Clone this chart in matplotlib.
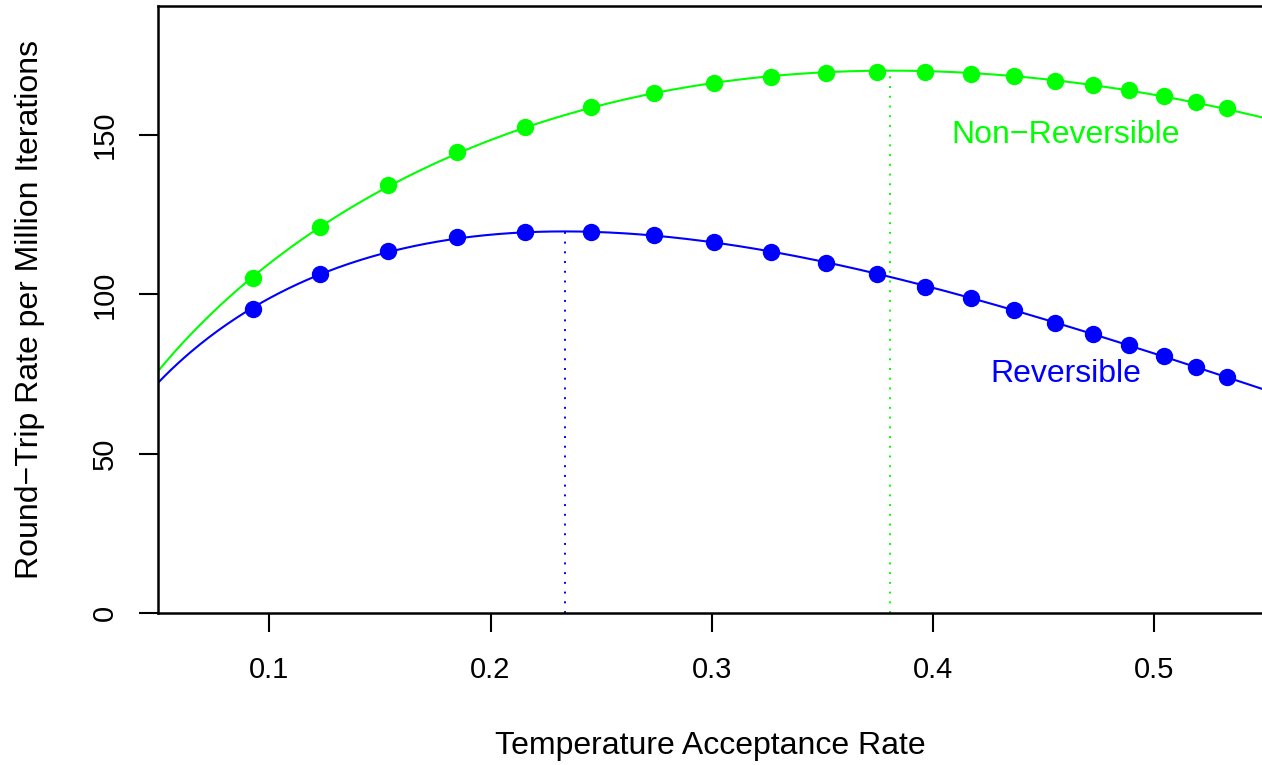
import numpy as np
import matplotlib
matplotlib.use("Agg")
import matplotlib.pyplot as plt

# acceptance rates (same for both samplers)
acc = [0.0926, 0.1229, 0.1536, 0.1848, 0.2156, 0.2454, 0.2739, 0.3010, 0.3267, 0.3516,
       0.3746, 0.3963, 0.4171, 0.4366, 0.4551, 0.4723, 0.4886, 0.5044, 0.5188, 0.5329]
nonrev = [105.1, 121.1, 134.3, 144.7, 152.5, 158.8, 163.2, 166.3, 168.2, 169.4,
          169.8, 169.8, 169.1, 168.5, 166.9, 165.7, 164.1, 162.2, 160.3, 158.5]
rev = [95.4, 106.4, 113.6, 118.0, 119.5, 119.5, 118.6, 116.4, 113.3, 109.8,
       106.4, 102.3, 98.8, 95.1, 91.0, 87.5, 84.1, 80.6, 77.2, 74.1]
labels = ["Non\u2212Reversible", "Reversible"]
label_pos = [(0.46, 150), (0.46, 75)]
colors = ["#00ff00", "#0000ff"]


def fit_curve(x, y, grid):
    # y ~ A * x^p * (1-x)^q, least squares on log scale
    x = np.asarray(x)
    X = np.column_stack([np.ones_like(x), np.log(x), np.log(1 - x)])
    c = np.linalg.lstsq(X, np.log(y), rcond=None)[0]
    return np.exp(c[0] + c[1]*np.log(grid) + c[2]*np.log(1 - grid))


plt.rcParams['font.family'] = ['Liberation Sans', 'DejaVu Sans']

fig = plt.figure(figsize=(12.62, 7.65), dpi=100)
ax = fig.add_axes([158/1262, 1 - 613/765, 1 - 158/1262, 607/765])
xlim = (0.0497, 0.5487)
grid = np.linspace(xlim[0], xlim[1], 500)

for y, col, lab, pos in zip([nonrev, rev], colors, labels, label_pos):
    fit = fit_curve(acc, y, grid)
    ax.plot(grid, fit, color=col, lw=1.5)
    ax.plot(acc, y, "o", color=col, ms=11.5, mec=col)
    i = np.argmax(fit)
    ax.plot([grid[i], grid[i]], [0, fit[i]], color=col, ls=(0, (1, 4)), lw=1.4)
    ax.text(pos[0], pos[1], lab, color=col, fontsize=23, ha="center", va="center")

ax.set_xlim(*xlim)
ax.set_ylim(0, 190.5)
ax.set_xticks([0.1, 0.2, 0.3, 0.4, 0.5])
ax.set_xticklabels(["0.1", "0.2", "0.3", "0.4", "0.5"])
ax.set_yticks([0, 50, 100, 150])
ax.set_yticklabels(["0", "50", "100", "150"], rotation=90, va="center")
ax.tick_params(length=14, width=1.5, labelsize=21, pad=17)
ax.tick_params(axis="y", pad=14)
for s in ["left", "top", "bottom"]:
    ax.spines[s].set_linewidth(1.8)
ax.spines["right"].set_visible(False)

ax.set_xlabel("Temperature Acceptance Rate", fontsize=23, va="center")
ax.xaxis.set_label_coords(0.5, -0.219)
ax.set_ylabel("Round\u2212Trip Rate per Million Iterations", fontsize=23, va="center")
ax.yaxis.set_label_coords(-0.116, 0.5)

plt.savefig("out.png", dpi=100)
